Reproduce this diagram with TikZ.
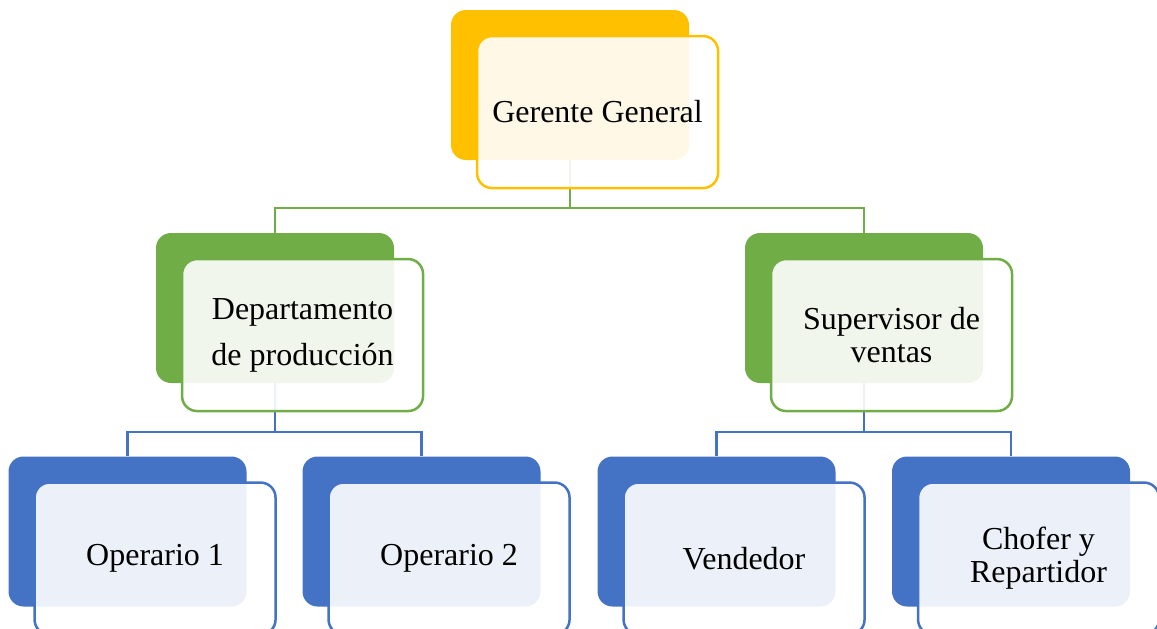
\documentclass[tikz,border=0pt]{standalone}
\usepackage{fontspec}
\setmainfont{Liberation Serif}
\usetikzlibrary{positioning}

\definecolor{gold}{HTML}{FFC000}
\definecolor{leafgreen}{HTML}{70AD47}
\definecolor{steelblue}{HTML}{4472C4}

\begin{document}
\begin{tikzpicture}[
    x=1pt, y=-1pt,
    backbox/.style={rounded corners=15pt, minimum width=238pt, minimum height=150pt, inner sep=0pt},
    frontbox/.style={draw, rounded corners=15pt, line width=2.5pt, fill=white, fill opacity=0.9, text opacity=1, draw opacity=1, minimum width=241pt, minimum height=152pt, inner sep=0pt, align=center, font=\fontsize{32}{33}\selectfont, text=black},
    greenline/.style={line width=2.5pt, leafgreen},
    blueline/.style={line width=2.5pt, steelblue}
  ]
    \clip (0,0) rectangle (1157,629);

    % Cajas de fondo
    \node[backbox, fill=gold] (gerenteBack) at (570,85) {};
    \node[backbox, fill=leafgreen] (depBack) at (275,308) {};
    \node[backbox, fill=leafgreen] (supBack) at (864,308) {};
    \node[backbox, fill=steelblue] (op1Back) at (127.5,531.5) {};
    \node[backbox, fill=steelblue] (op2Back) at (421.5,531.5) {};
    \node[backbox, fill=steelblue] (vendBack) at (716.5,531.5) {};
    \node[backbox, fill=steelblue] (choferBack) at (1011,531.5) {};

    % Conectores
    \draw[greenline] (gerenteBack.south) -- ++(0,48) -| (depBack.north);
    \draw[greenline] (gerenteBack.south) -- ++(0,48) -| (supBack.north);
    \draw[blueline] (depBack.south) -- ++(0,49) -| (op1Back.north);
    \draw[blueline] (depBack.south) -- ++(0,49) -| (op2Back.north);
    \draw[blueline] (supBack.south) -- ++(0,49) -| (vendBack.north);
    \draw[blueline] (supBack.south) -- ++(0,49) -| (choferBack.north);

    % Cajas de texto
    \node[frontbox, draw=gold, below right=25pt and 25pt of gerenteBack.north west, anchor=north west] (gerente) {Gerente General};
    \node[frontbox, draw=leafgreen, font=\fontsize{32}{46}\selectfont, below right=25pt and 25pt of depBack.north west, anchor=north west] (dep) {Departamento\\de producción};
    \node[frontbox, draw=leafgreen, below right=25pt and 25pt of supBack.north west, anchor=north west] (sup) {Supervisor de\\ventas};
    \node[frontbox, draw=steelblue, below right=25pt and 25pt of op1Back.north west, anchor=north west] (op1) {Operario 1};
    \node[frontbox, draw=steelblue, below right=25pt and 25pt of op2Back.north west, anchor=north west] (op2) {Operario 2};
    \node[frontbox, draw=steelblue, below right=25pt and 25pt of vendBack.north west, anchor=north west] (vend) {Vendedor};
    \node[frontbox, draw=steelblue, below right=25pt and 25pt of choferBack.north west, anchor=north west] (chofer) {Chofer y\\Repartidor};
  \end{tikzpicture}
\end{document}
